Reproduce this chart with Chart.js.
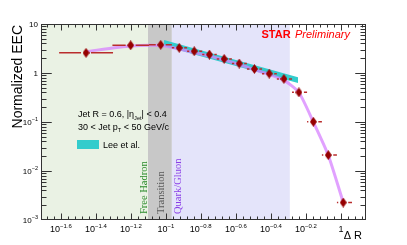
<!DOCTYPE html>
<html>
<head>
<meta charset="utf-8">
<script src="https://cdn.jsdelivr.net/npm/chart.js@4/dist/chart.umd.min.js"></script>
<style>
  html, body { margin: 0; padding: 0; background: #fff; }
</style>
</head>
<body>
<canvas id="eec" width="407" height="245"></canvas>
<script>
// STAR data points (bin centre, bin edges, normalized EEC)
const dR = [0.0349, 0.0628, 0.0933, 0.119, 0.145, 0.177, 0.215, 0.262, 0.320, 0.389, 0.472, 0.575, 0.695, 0.846, 1.03];
const dRLow = [0.0245, 0.0494, 0.080, 0.108, 0.132, 0.161, 0.195, 0.238, 0.290, 0.354, 0.430, 0.525, 0.640, 0.778, 0.948];
const dRHigh = [0.0498, 0.080, 0.108, 0.132, 0.161, 0.195, 0.238, 0.290, 0.354, 0.430, 0.525, 0.640, 0.778, 0.948, 1.156];
const eec = [2.58, 3.68, 3.76, 3.26, 2.78, 2.38, 1.94, 1.56, 1.21, 0.97, 0.757, 0.403, 0.101, 0.0211, 0.00227];

// MC curve (violet band)
const mcEEC = [2.74, 3.55, 3.63, 3.08, 2.61, 2.22, 1.84, 1.49, 1.17, 0.93, 0.716, 0.40, 0.10, 0.021, 0.0023];

// Lee et al. band
const dRTheory = [0.0975, 0.16, 0.30, 0.568];
const theoryHigh = [4.7, 2.87, 1.54, 0.817];
const theoryLow = [3.55, 2.18, 1.17, 0.628];

// shaded regions
const regionEdges = [0.0193, 0.0789, 0.108, 0.51];
const regionNames = ["Free Hadron", "Transition", "Quark/Gluon"];

// axes
const xMin = 0.0193, xMax = 1.39;
const xTicks = [0.0251, 0.0398, 0.0631, 0.1, 0.158, 0.251, 0.398, 0.631, 1];
const xTickLabels = ["10^\u22121.6", "10^\u22121.4", "10^\u22121.2", "10^\u22121", "10^\u22120.8", "10^\u22120.6", "10^\u22120.4", "10^\u22120.2", "1"];
const yTicks = [0.001, 0.01, 0.1, 1, 10];
const yTickLabels = ["10^\u22123", "10^\u22122", "10^\u22121", "1", "10"];

const SANS = '"Liberation Sans", Arial, sans-serif';
const SERIF = '"Liberation Serif", "Times New Roman", serif';

function diamond(w, h, color) {
  const c = document.createElement("canvas");
  c.width = w; c.height = h;
  const g = c.getContext("2d");
  g.fillStyle = color;
  g.beginPath();
  g.moveTo(w / 2, 0); g.lineTo(w, h / 2); g.lineTo(w / 2, h); g.lineTo(0, h / 2);
  g.closePath();
  g.fill();
  return c;
}

// "10^exp" label, anchored by align on (x, y)
function powLabel(g, text, x, y, align, base, sup) {
  const parts = text.split("^");
  g.font = base + "px " + SANS;
  const w0 = g.measureText(parts[0]).width;
  let w1 = 0;
  if (parts[1]) { g.font = sup + "px " + SANS; w1 = g.measureText(parts[1]).width; }
  const w = w0 + w1;
  let x0 = x;
  if (align === "center") x0 = x - w / 2;
  if (align === "right") x0 = x - w;
  g.textAlign = "left";
  g.textBaseline = "alphabetic";
  g.font = base + "px " + SANS;
  g.fillText(parts[0], x0, y);
  if (parts[1]) {
    g.font = sup + "px " + SANS;
    g.fillText(parts[1], x0 + w0, y - base * 0.45);
  }
}

// text with one subscript piece: [before, sub, after]
function subText(g, pieces, x, y, size) {
  g.textAlign = "left";
  g.textBaseline = "alphabetic";
  g.font = size + "px " + SANS;
  g.fillText(pieces[0], x, y);
  let cx = x + g.measureText(pieces[0]).width;
  g.font = (size * 0.62) + "px " + SANS;
  g.fillText(pieces[1], cx, y + 2.5);
  cx += g.measureText(pieces[1]).width;
  g.font = size + "px " + SANS;
  g.fillText(pieces[2], cx, y);
}

const decor = {
  id: "decor",
  beforeDatasetsDraw(chart) {
    const g = chart.ctx, a = chart.chartArea, x = chart.scales.x;
    const fills = ["rgb(234,242,228)", "rgb(200,200,200)", "rgb(228,228,250)"];
    g.save();
    for (let i = 0; i < 3; i++) {
      const x0 = Math.max(a.left, x.getPixelForValue(regionEdges[i]));
      const x1 = x.getPixelForValue(regionEdges[i + 1]);
      g.fillStyle = fills[i];
      g.fillRect(x0, a.top, x1 - x0, a.bottom - a.top);
    }
    // region names, written upwards
    const e1 = x.getPixelForValue(regionEdges[1]);
    const e2 = x.getPixelForValue(regionEdges[2]);
    const spots = [e1 - 0.5, (e1 + e2) / 2 + 4, e2 + 9];
    const colors = ["#2a8a2a", "#5a5a5a", "#8a3ee6"];
    g.font = "10.5px " + SERIF;
    g.textAlign = "left";
    g.textBaseline = "alphabetic";
    for (let i = 0; i < 3; i++) {
      g.save();
      g.translate(spots[i], a.bottom - 6);
      g.rotate(-Math.PI / 2);
      g.fillStyle = colors[i];
      g.fillText(regionNames[i], 0, 0);
      g.restore();
    }
    // legend block
    g.fillStyle = "#000";
    subText(g, ["Jet R = 0.6, |\u03b7", "Jet", "| < 0.4"], 78, 117, 9);
    subText(g, ["30 < Jet p", "T", " < 50 GeV/c"], 78, 129.5, 9);
    g.fillStyle = "rgb(51,204,204)";
    g.fillRect(77, 140, 22, 9);
    g.fillStyle = "#000";
    g.font = "9px " + SANS;
    g.fillText("Lee et al.", 103, 147.5);
    g.restore();
  },
  beforeDatasetDraw(chart, args) {
    if (args.index !== 0) return;
    const g = chart.ctx, x = chart.scales.x, y = chart.scales.y;
    g.save();
    g.strokeStyle = "rgb(185,45,45)";
    g.lineWidth = 1.5;
    const gap = 5;
    dR.forEach((v, i) => {
      const px = x.getPixelForValue(v), py = y.getPixelForValue(eec[i]);
      const lo = x.getPixelForValue(dRLow[i]), hi = x.getPixelForValue(dRHigh[i]);
      g.beginPath();
      g.moveTo(lo, py); g.lineTo(px - gap, py);
      g.moveTo(px + gap, py); g.lineTo(hi, py);
      g.stroke();
    });
    g.restore();
  },
  afterDraw(chart) {
    const g = chart.ctx, a = chart.chartArea, x = chart.scales.x, y = chart.scales.y;
    g.save();
    g.strokeStyle = "#333";
    g.lineWidth = 1;
    const L = Math.round(a.left) + 0.5, R = Math.round(a.right) - 0.5;
    const T = Math.round(a.top) + 0.5, B = Math.round(a.bottom) - 0.5;
    g.strokeRect(L, T, R - L, B - T);

    g.beginPath();
    // x minor ticks every 0.04 in log10, major at labelled ticks
    for (let k = -43; k <= 4; k++) {
      const px = Math.round(x.getPixelForValue(Math.pow(10, k * 0.04))) + 0.5;
      if (px <= L || px >= R) continue;
      const major = k % 5 === 0;
      const len = major ? 6 : 3;
      g.moveTo(px, B); g.lineTo(px, B - len);
      g.moveTo(px, T); g.lineTo(px, T + len);
    }
    // y ticks: decades major, 2..9 minor
    for (let d = -3; d <= 0; d++) {
      for (let m = 1; m <= 10; m++) {
        const v = m * Math.pow(10, d);
        const py = Math.round(y.getPixelForValue(v)) + 0.5;
        if (py <= T || py >= B) continue;
        const len = (m === 1 || m === 10) ? 10 : 5;
        g.moveTo(L, py); g.lineTo(L + len, py);
        g.moveTo(R, py); g.lineTo(R - len, py);
      }
    }
    g.stroke();

    // tick labels
    g.fillStyle = "#000";
    xTicks.forEach((v, i) => {
      powLabel(g, xTickLabels[i], x.getPixelForValue(v), a.bottom + 12, "center", 9, 6);
    });
    yTicks.forEach((v, i) => {
      powLabel(g, yTickLabels[i], a.left - 3, y.getPixelForValue(v) + 3, "right", 8, 5.5);
    });

    // axis titles
    g.font = "14px " + SANS;
    g.textAlign = "right";
    g.textBaseline = "alphabetic";
    g.save();
    g.translate(21.5, a.top + 1);
    g.rotate(-Math.PI / 2);
    g.fillText("Normalized EEC", 0, 0);
    g.restore();
    g.font = "11px " + SANS;
    g.textAlign = "right";
    g.fillText("\u0394 R", a.right - 4, 239);

    // STAR Preliminary
    g.fillStyle = "#ff0000";
    g.textAlign = "left";
    g.font = "bold 11px " + SANS;
    g.fillText("STAR", 261.5, 38);
    g.font = "italic 11px " + SANS;
    g.fillText("Preliminary", 295, 38);
    g.restore();
  }
};

const pts = (xs, ys) => xs.map((v, i) => ({ x: v, y: ys[i] }));

new Chart(document.getElementById("eec"), {
  type: "scatter",
  data: {
    datasets: [
      {
        label: "STAR",
        data: pts(dR, eec),
        pointStyle: diamond(7, 10, "rgb(150,0,0)"),
        pointRadius: 5,
        order: 0,
      },
      {
        label: "MC",
        data: pts(dR, mcEEC),
        showLine: true,
        borderColor: "rgba(215,130,255,0.75)",
        borderWidth: 3,
        pointRadius: 0,
        tension: 0.2,
        order: 1,
      },
      {
        label: "Lee et al. high",
        data: pts(dRTheory, theoryHigh),
        showLine: true,
        borderWidth: 0,
        pointRadius: 0,
        fill: "+1",
        backgroundColor: "rgb(51,204,204)",
        order: 2,
      },
      {
        label: "Lee et al. low",
        data: pts(dRTheory, theoryLow),
        showLine: true,
        borderWidth: 0,
        pointRadius: 0,
        order: 3,
      },
    ],
  },
  options: {
    responsive: false,
    animation: false,
    devicePixelRatio: 1,
    layout: { padding: { left: 41, right: 41, top: 24, bottom: 25 } },
    scales: {
      x: { type: "logarithmic", min: xMin, max: xMax, display: false },
      y: { type: "logarithmic", min: 0.001, max: 10, display: false },
    },
    plugins: {
      legend: { display: false },
      tooltip: { enabled: false },
    },
  },
  plugins: [decor],
});
</script>
</body>
</html>
